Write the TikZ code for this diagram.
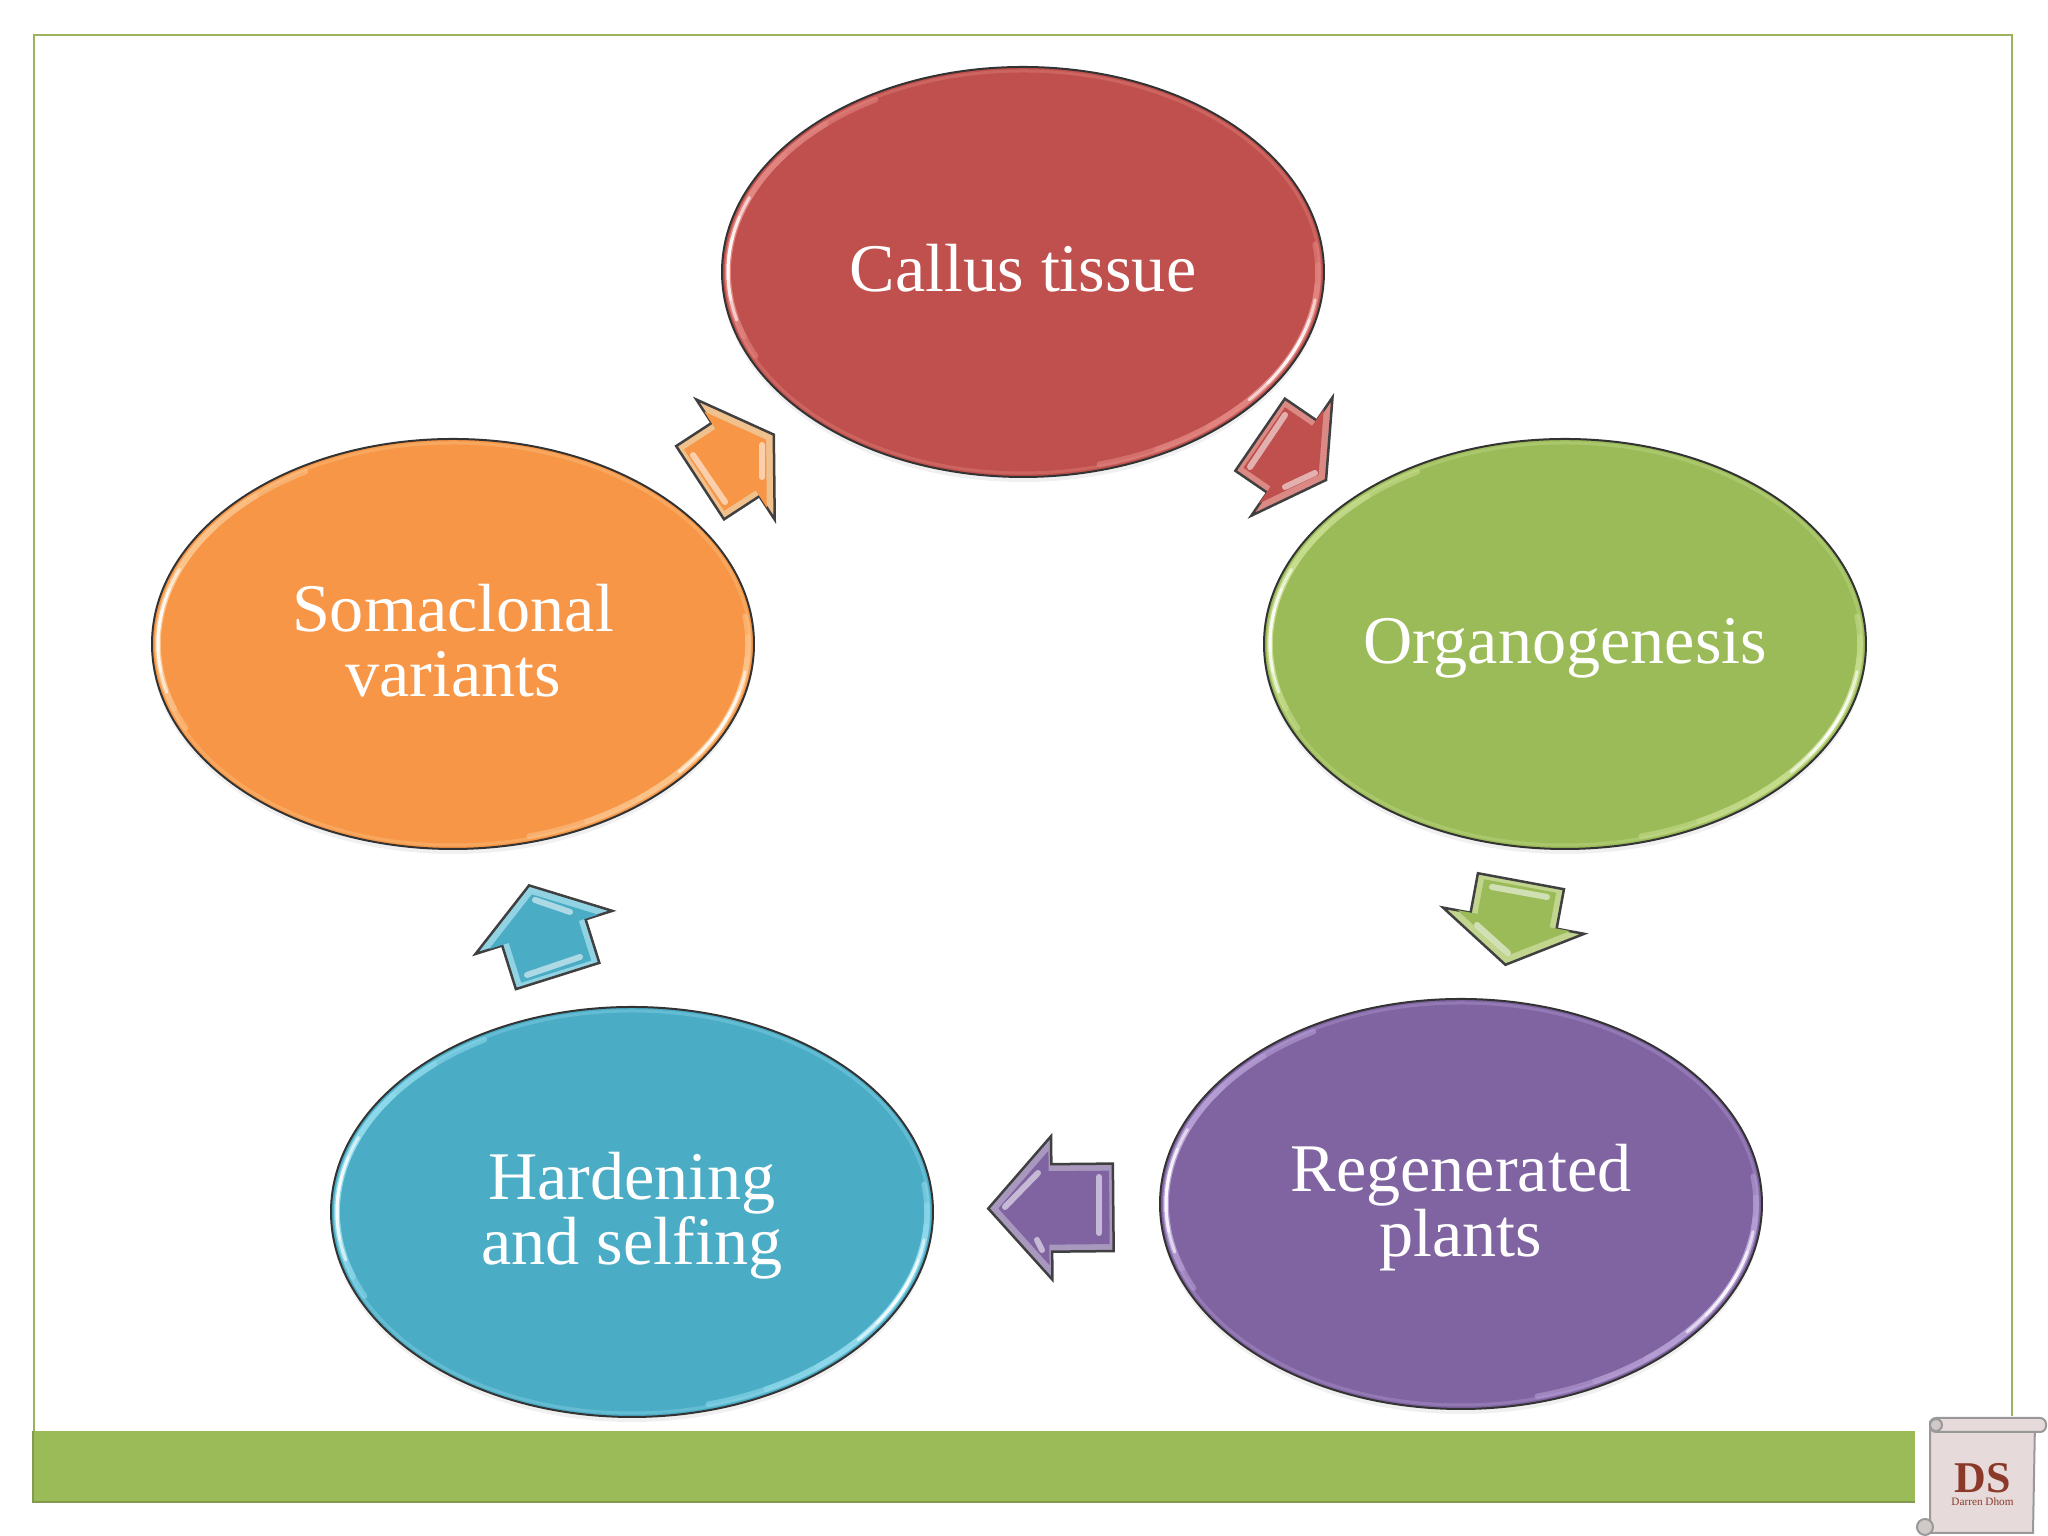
\documentclass[tikz,border=0pt]{standalone}
\usepackage{fontspec}
\setmainfont{Liberation Serif}
\usetikzlibrary{shapes.geometric,shapes.arrows,shadows}

\definecolor{framegreen}{HTML}{9BB35C}
\definecolor{bandgreen}{HTML}{9BBB59}
\definecolor{callusred}{HTML}{C0504D}
\definecolor{callusrim}{HTML}{E58A86}
\definecolor{organogreen}{HTML}{9BBB59}
\definecolor{organorim}{HTML}{C9DF90}
\definecolor{regenpurple}{HTML}{8064A2}
\definecolor{regenrim}{HTML}{B9A2D8}
\definecolor{hardenblue}{HTML}{4BACC6}
\definecolor{hardenrim}{HTML}{93DCEE}
\definecolor{somaorange}{HTML}{F79646}
\definecolor{somarim}{HTML}{FCC78F}
\definecolor{scrollpaper}{HTML}{E6DADA}
\definecolor{scrollink}{HTML}{8B3A2A}

\newcommand{\stageline}[1]{\raisebox{-.20cm}[0pt][0pt]{#1}}

\tikzset{
    stage/.style={shape=ellipse,draw=black!80,line width=.02cm,text=white,
        minimum width=6.02cm,minimum height=4.10cm,inner sep=0pt,outer sep=0pt,
        align=center,font=\fontsize{19.4pt}{18.5pt}\selectfont,
        drop shadow={shadow xshift=0cm,shadow yshift=-.05cm,opacity=.12}},
    flow/.style 2 args={shape=single arrow,sloped,allow upside down,
        draw=black!75,line width=.025cm,outer sep=0pt,inner xsep=0pt,inner ysep=.425cm,
        minimum height=#1cm,minimum width=1.41cm,
        single arrow head extend=.28cm,single arrow tip angle=#2},
    flowtop/.style 2 args={shape=single arrow,sloped,allow upside down,
        outer sep=0pt,inner xsep=0pt,inner ysep=.36cm,
        minimum height=#1cm-.14cm,minimum width=1.13cm,
        single arrow head extend=.205cm,single arrow tip angle=#2},
    glint/.style={line width=.06cm,line cap=round,white,opacity=.55},
    rim/.style={line width=.055cm,line cap=round,opacity=.55},
    spark/.style={line width=.03cm,line cap=round,white,opacity=.6}
}

\begin{document}
\begin{tikzpicture}
    \useasboundingbox (0, 0) rectangle (20.48, 15.36);

    % slide frame and footer band
    \draw [framegreen,line width=.025cm] (.34, 1.05) -- (.34, 15.01)
        -- (20.12, 15.01) -- (20.12, 1.20);
    \fill [bandgreen] (.33, .34) rectangle (19.15, 1.05);
    \draw [framegreen!85!black,line width=.025cm] (.33, 1.05) -- (.33, .34) -- (19.15, .34);

    % the five stages
    \node (callus)[stage,fill=callusred]
        at (10.23, 12.64) {\stageline{Callus tissue}};
    \node (organo)[stage,fill=organogreen]
        at (15.65, 8.92) {\stageline{Organogenesis}};
    \node (regen)[stage,fill=regenpurple]
        at (14.61, 3.32) {\stageline{Regenerated}\\\stageline{plants}};
    \node (harden)[stage,fill=hardenblue]
        at (6.32, 3.24) {\stageline{Hardening}\\\stageline{and selfing}};
    \node (soma)[stage,fill=somaorange]
        at (4.53, 8.92) {\stageline{Somaclonal}\\\stageline{variants}};

    % bevel on the rims
    \foreach \name/\tint in {callus/callusrim,organo/organorim,regen/regenrim,
        harden/hardenrim,soma/somarim} {
        \draw [\tint,line width=.03cm,opacity=.35]
            (\name.center) ellipse [x radius=2.97cm,y radius=2.01cm];
        \foreach \da in {0,12,24,36} {
            \draw [rim,\tint] ([shift={(120+\da:2.95cm and 1.99cm)}]\name.center)
                arc [start angle=120+\da,end angle=205-\da/2,x radius=2.95cm,y radius=1.99cm];
            \draw [rim,\tint] ([shift={(-75+\da:2.95cm and 1.99cm)}]\name.center)
                arc [start angle=-75+\da,end angle=8-\da/2,x radius=2.95cm,y radius=1.99cm];
        }
        \foreach \da in {0,6,12} {
            \draw [spark] ([shift={(158+\da:2.95cm and 1.99cm)}]\name.center)
                arc [start angle=158+\da,end angle=194-\da,x radius=2.95cm,y radius=1.99cm];
            \draw [spark] ([shift={(-40+\da:2.95cm and 1.99cm)}]\name.center)
                arc [start angle=-40+\da,end angle=-8-\da,x radius=2.95cm,y radius=1.99cm];
        }
    }

    % arrows between the stages
    \path (callus) -- (organo)
        node (toorgano)[pos=.404,flow={.80}{120},fill=callusrim!90!gray] {}
        node (toorganotop)[pos=.404,flowtop={.80}{120},fill=callusred] {};
    \path (organo) -- (regen)
        node (toregen)[pos=.406,flow={.85}{116},fill=organorim!90!gray] {}
        node (toregentop)[pos=.406,flowtop={.85}{116},fill=organogreen] {};
    \path (regen) -- (harden)
        node (toharden)[pos=.396,flow={1.25}{97},fill=regenrim!70!gray] {}
        node (tohardentop)[pos=.396,flowtop={1.25}{97},fill=regenpurple] {};
    \path (harden) -- (soma)
        node (tosoma)[pos=.398,flow={.95}{111},fill=hardenrim!90!gray] {}
        node (tosomatop)[pos=.398,flowtop={.95}{111},fill=hardenblue] {};
    \path (soma) -- (callus)
        node (tocallus)[pos=.406,flow={.88}{115},fill=somarim!90!gray] {}
        node (tocallustop)[pos=.406,flowtop={.88}{115},fill=somaorange] {};

    % highlights on the arrows
    \draw [glint] (12.50, 10.69) -- (12.85, 11.21);
    \draw [glint] (12.85, 10.49) -- (13.15, 10.63);
    \draw [glint] (14.92, 6.49) -- (15.47, 6.39);
    \draw [glint] (14.77, 6.11) -- (15.08, 5.83);
    \draw [glint] (10.99, 3.59) -- (10.99, 3.03);
    \draw [glint] (10.05, 3.29) -- (10.38, 3.63);
    \draw [glint] (10.37, 2.96) -- (10.42, 2.86);
    \draw [glint] (5.35, 6.36) -- (5.70, 6.24);
    \draw [glint] (5.27, 5.61) -- (5.80, 5.79);
    \draw [glint] (6.93, 10.81) -- (7.25, 10.34);
    \draw [glint] (7.62, 10.91) -- (7.62, 10.59);

    % scroll in the corner
    \draw [gray!80,fill=scrollpaper,line width=.02cm]
        (19.30, 1.14) -- (19.30, .10) -- (19.22, .03) -- (20.33, .03)
        -- (20.35, 1.14) -- cycle;
    \draw [gray!80,fill=scrollpaper,line width=.02cm,rounded corners=.06cm]
        (19.30, 1.18) rectangle (20.46, 1.04);
    \draw [gray!80,fill=scrollpaper!80!gray,line width=.02cm]
        (19.25, .09) circle (.08);
    \draw [gray!80,fill=scrollpaper!80!gray,line width=.02cm]
        (19.36, 1.11) circle (.06);
    \node (scrollds)[text=scrollink,inner sep=0pt,font=\fontsize{12.5pt}{13pt}\selectfont\bfseries]
        at (19.825, .58) {DS};
    \node (scrollname)[text=scrollink,inner sep=0pt,font=\fontsize{3.2pt}{4pt}\selectfont]
        at (19.825, .34) {Darren Dhom};
\end{tikzpicture}
\end{document}
